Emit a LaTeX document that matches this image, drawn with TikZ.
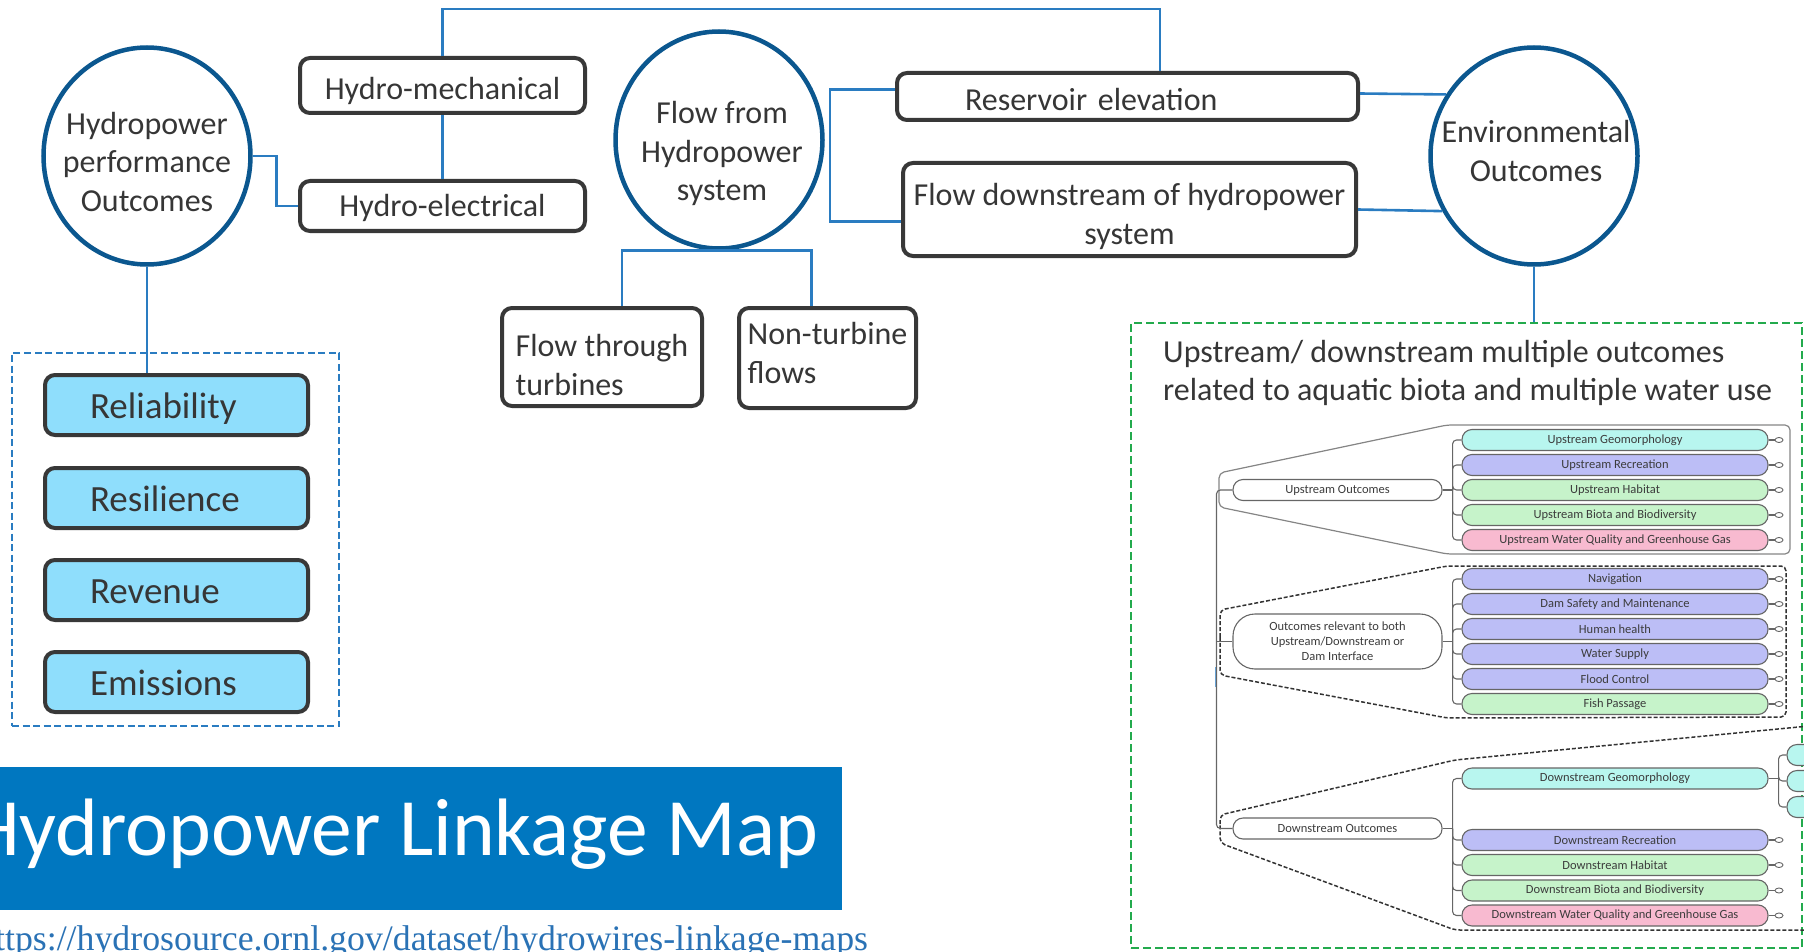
\documentclass[tikz,border=0pt]{standalone}
\usepackage{fontspec}
\setmainfont{Carlito}
\newfontfamily\linkfont{Liberation Serif}
\usetikzlibrary{shapes.geometric}

\definecolor{ringblue}{HTML}{0B578F}
\definecolor{linkblue}{HTML}{2A7CC1}
\definecolor{boxline}{HTML}{383838}
\definecolor{inkgray}{HTML}{363636}
\definecolor{tileblue}{HTML}{8FDEFC}
\definecolor{bannerblue}{HTML}{0077C0}
\definecolor{urlblue}{HTML}{2A72B5}
\definecolor{greendash}{HTML}{23AA4D}
\definecolor{mmline}{HTML}{666666}
\definecolor{mmtext}{HTML}{3C3C3C}
\definecolor{mmcyan}{HTML}{B8F6EF}
\definecolor{mmlav}{HTML}{BCBEF6}
\definecolor{mmgreen}{HTML}{C6F3CA}
\definecolor{mmpink}{HTML}{F8BAD0}

\tikzset{
  bigtext/.style={font=\fontsize{32}{38.5}\selectfont, text=inkgray},
  ring/.style={ellipse, draw=ringblue, fill=white, line width=4.5pt,
    minimum width=207pt, minimum height=217pt, inner sep=0pt},
  ringlabel/.style={bigtext, align=center, inner sep=0pt},
  mainbox/.style={bigtext, draw=boxline, line width=4pt, rounded corners=10pt,
    fill=white, inner sep=0pt},
  onelined/.style={text height=21pt, text depth=0pt},
  tile/.style={draw=boxline, line width=4pt, rounded corners=10pt, fill=tileblue,
    text=inkgray, font=\fontsize{37}{44}\selectfont, align=left,
    text width=173pt, inner xsep=45pt, inner ysep=0pt, minimum height=60pt,
    text height=27pt, text depth=0pt},
  link/.style={draw=linkblue, line width=2.6pt},
  mm/.style={draw=mmline, line width=1.1pt},
  pill/.style={draw=mmline, line width=1.1pt, rounded corners=10pt,
    minimum height=21pt, inner sep=0pt, text=mmtext,
    font=\fontsize{12.5}{15}\selectfont},
  mmparent/.style={pill, fill=white, minimum width=209pt},
  mmleaf/.style={pill, minimum width=306pt},
  knob/.style={ellipse, draw=mmline, line width=0.9pt, fill=white,
    minimum width=8pt, minimum height=5pt, inner sep=0pt},
  grpsolid/.style={draw=mmline!80, line width=1.2pt, rounded corners=5pt},
  grpdash/.style={draw=black!80, line width=1.5pt, dash pattern=on 4pt off 2pt,
    rounded corners=5pt},
}

\begin{document}
\begin{tikzpicture}[x=1pt, y=-1pt]
\useasboundingbox (0,0) rectangle (1804,952);

% ---------- frames ----------
\node[draw=linkblue, line width=2pt, dash pattern=on 7pt off 3.5pt,
  minimum width=327pt, minimum height=373pt, inner sep=0pt] (perfbox) at (175.5,539.5) {};
\node[draw=greendash, line width=2pt, dash pattern=on 8pt off 4pt,
  minimum width=671pt, minimum height=625pt, inner sep=0pt] (envbox) at (1466.5,635.5) {};

% ---------- outcome rings ----------
\node[ring] (hpo) at (147,156) {};
\node[ring] (flow) at (719,140) {};
\node[ring] (env) at (1534,156) {};
\node[ringlabel] (hpo-t) at (147,162) {Hydropower\\performance\\Outcomes};
\node[ringlabel] (flow-t) at (722,153.5) {Flow from\\Hydropower\\system};
\node[ringlabel] (env-t) at (1536,151) {Environmental\\Outcomes};

% ---------- component boxes ----------
\node[mainbox, text height=28pt, text depth=0pt, minimum width=285pt, minimum height=55pt] (hmech) at (442.5,85.5) {Hydro-mechanical};
\node[mainbox, onelined, minimum width=285pt, minimum height=50pt] (helec) at (442.5,206) {Hydro-electrical};
\node[mainbox, align=left, minimum width=200pt, minimum height=98pt] (fthru) at (602,357)
  {\rule{0pt}{38pt}Flow through\\turbines};
\node[mainbox, align=left, minimum width=177pt, minimum height=100pt] (nonturb) at (827.5,358)
  {Non-turbine\\flows\rule[-10pt]{0pt}{0pt}};
\node[mainbox, text height=28pt, text depth=0pt, align=left, text width=325pt, inner xsep=68pt, minimum height=47pt] (resv) at (1127.5,96.5) {Reservoir elevation};
\node[mainbox, align=center, minimum width=453pt, minimum height=93pt] (fdown) at (1129.5,209.5)
  {\rule{0pt}{36pt}Flow downstream of hydropower\\system};

% ---------- performance tiles ----------
\node[tile] (rel) at (176.5,405) {Reliability};
\node[tile] (resil) at (176.5,498) {Resilience};
\node[tile] (rev) at (176.5,590) {Revenue};
\node[tile] (emis) at (176.5,682) {Emissions};

% ---------- connectors ----------
\draw[link] (hpo.east) -- ++(24,0) |- (helec.west);
\draw[link] (hmech.south) -- (helec.north);
\coordinate (topbend) at (1160,9);
\draw[link] (hmech.north) |- (topbend) -- (topbend |- resv.north);
\draw[link] ([xshift=20pt]fthru.north) |- (flow.south) -| ([xshift=-16pt]nonturb.north);
\coordinate (flowbrk) at (830,150);
\draw[link] ([yshift=7pt]resv.west) -| (flowbrk) |- ([yshift=-12pt]fdown.west);
\draw[link] ([yshift=3pt]resv.east) -- (env.145);
\draw[link] (fdown.east) -- (env.211);
\draw[link] (env.south) -- (env.south |- envbox.north);
\draw[link] (hpo.south) -- (hpo.south |- rel.north);

% ---------- note in the environmental frame ----------
\node[bigtext, font=\fontsize{32}{38}\selectfont, align=left, anchor=west, inner sep=0pt]
  (envnote) at (1163,373) {Upstream/ downstream multiple outcomes\\related to aquatic biota and multiple water use};

% ---------- outcome mind map: group outlines ----------
\draw[grpsolid] (1219,490) -- (1219,473) -- (1447,425) -- (1790,425) -- (1790,554)
  -- (1447,554) -- (1219,507) -- cycle;
\draw[grpdash] (1220,642) -- (1220,610) -- (1447,566) -- (1786,566) -- (1786,717)
  -- (1447,718) -- (1220,675) -- cycle;
\draw[grpdash] (1220,829) -- (1220,815) -- (1455,760) -- (1830,724) -- (1830,930)
  -- (1455,930) -- (1220,843) -- cycle;

% ---------- mind map: group heads and trunk ----------
\node[mmparent] (upo) at (1337.5,490) {Upstream Outcomes};
\node[mmparent, minimum height=55pt, rounded corners=22pt, align=center] (mido) at (1337.5,641.5)
  {Outcomes relevant to both\\Upstream/Downstream or\\Dam Interface};
\node[mmparent] (dno) at (1337.5,828.5) {Downstream Outcomes};
\draw[mm, rounded corners=4pt] (upo.west) -- ++(-16,0) |- (dno.west);
\draw[mm] (mido.west) -- ++(-16,0);
\draw[linkblue!70, line width=1pt] (1215,667) -- (1215,687);

% ---------- mind map: upstream leaves ----------
\coordinate (uj) at ([xshift=10pt]upo.east);
\draw[mm] (upo.east) -- (uj);
\foreach \n/\y/\col/\lbl in {ugeo/440/mmcyan/Upstream Geomorphology,
    urec/465/mmlav/Upstream Recreation,
    uhab/490/mmgreen/Upstream Habitat,
    ubio/515/mmgreen/Upstream Biota and Biodiversity,
    uwq/540/mmpink/Upstream Water Quality and Greenhouse Gas}{
  \node[mmleaf, fill=\col] (\n) at (1615,\y) {\lbl};
  \node[knob, anchor=west] (\n-k) at ([xshift=6pt]\n.east) {};
  \draw[mm] (\n.east) -- (\n-k.west);
  \draw[mm, rounded corners=4pt] (uj) |- (\n.west);
}

% ---------- mind map: shared leaves ----------
\coordinate (mj) at ([xshift=10pt]mido.east);
\draw[mm] (mido.east) -- (mj);
\foreach \n/\y/\col/\lbl in {nav/579/mmlav/Navigation,
    dam/604/mmlav/Dam Safety and Maintenance,
    hum/629/mmlav/Human health,
    wat/654/mmlav/Water Supply,
    flo/679/mmlav/Flood Control,
    fish/704/mmgreen/Fish Passage}{
  \node[mmleaf, fill=\col] (\n) at (1615,\y) {\lbl};
  \node[knob, anchor=west] (\n-k) at ([xshift=6pt]\n.east) {};
  \draw[mm] (\n.east) -- (\n-k.west);
  \draw[mm, rounded corners=4pt] (mj) |- (\n.west);
}

% ---------- mind map: downstream leaves ----------
\coordinate (dj) at ([xshift=10pt]dno.east);
\draw[mm] (dno.east) -- (dj);
\node[mmleaf, fill=mmcyan] (dgeo) at (1615,778.5) {Downstream Geomorphology};
\draw[mm, rounded corners=4pt] (dj) |- (dgeo.west);
\foreach \n/\y/\col/\lbl in {drec/840/mmlav/Downstream Recreation,
    dhab/865/mmgreen/Downstream Habitat,
    dbio/890.5/mmgreen/Downstream Biota and Biodiversity,
    dwq/915.5/mmpink/Downstream Water Quality and Greenhouse Gas}{
  \node[mmleaf, fill=\col] (\n) at (1615,\y) {\lbl};
  \node[knob, anchor=west] (\n-k) at ([xshift=6pt]\n.east) {};
  \draw[mm] (\n.east) -- (\n-k.west);
  \draw[mm, rounded corners=4pt] (dj) |- (\n.west);
}
\coordinate (gj) at ([xshift=10pt]dgeo.east);
\draw[mm] (dgeo.east) -- (gj);
\foreach \n/\y in {gsub1/755, gsub2/781, gsub3/807}{
  \node[pill, fill=mmcyan, minimum width=52pt] (\n) at (1813,\y) {};
  \draw[mm, rounded corners=4pt] (gj) |- (\n.west);
}

% ---------- title banner and source link ----------
\node[fill=bannerblue, minimum width=842pt, minimum height=143pt, inner sep=0pt,
  anchor=north west] (banner) at (0,767) {};
\node[anchor=base west, inner sep=0pt, text=white, font=\fontsize{81.5}{98}\selectfont]
  (title) at (-31,855) {Hydropower Linkage Map};
\node[anchor=base west, inner sep=0pt, text=urlblue, font=\linkfont\fontsize{35.8}{42}\selectfont]
  (url) at (-23,950) {https://hydrosource.ornl.gov/dataset/hydrowires-linkage-maps};
\end{tikzpicture}
\end{document}
